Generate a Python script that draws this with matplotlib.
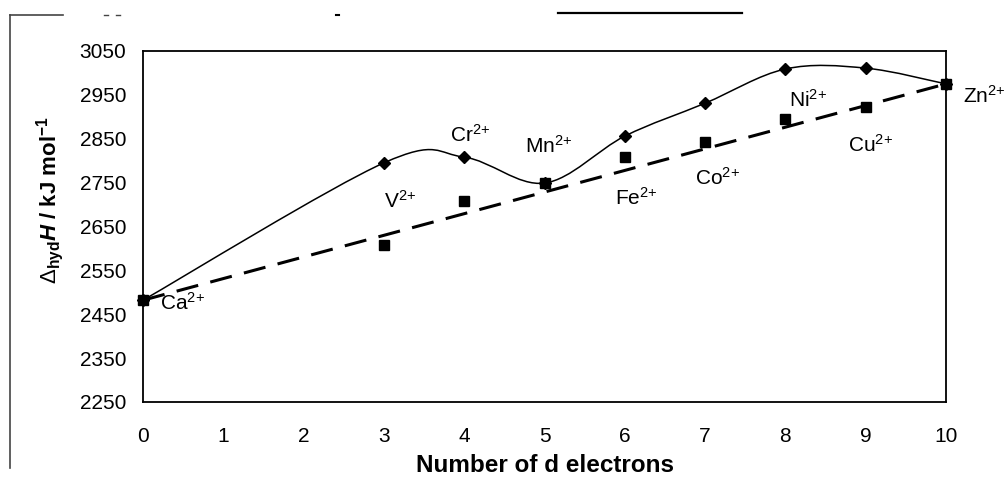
import numpy as np
import matplotlib
matplotlib.use("Agg")
import matplotlib.pyplot as plt
from matplotlib.path import Path
from matplotlib.patches import PathPatch
from matplotlib.lines import Line2D

plt.rcParams['font.family'] = ['Liberation Sans', 'DejaVu Sans']
plt.rcParams['mathtext.fontset'] = 'custom'
plt.rcParams['mathtext.rm'] = 'Liberation Sans'
plt.rcParams['mathtext.it'] = 'Liberation Sans:italic'
plt.rcParams['mathtext.bf'] = 'Liberation Sans:bold'
plt.rcParams['mathtext.bfit'] = 'Liberation Sans:italic:bold'

# Hydration enthalpies of the first-row M2+ ions (magnitudes, kJ/mol)
ions = ['Ca', 'V', 'Cr', 'Mn', 'Fe', 'Co', 'Ni', 'Cu', 'Zn']
d_electrons = [0, 3, 4, 5, 6, 7, 8, 9, 10]
observed = [2482, 2795, 2808, 2749, 2856, 2931, 3009, 3011, 2975]
corrected = [2482, 2608, 2708, 2749, 2808, 2843, 2895, 2922, 2975]

# Label anchors (left / baseline) in data units
label_x = [0.21, 3.00, 3.82, 4.76, 5.88, 6.87, 8.04, 8.78, 10.21]
label_y = [2460, 2692, 2843, 2817, 2699, 2745, 2922, 2820, 2931]

y_ticks = list(range(2250, 3051, 100))
x_ticks = list(range(0, 11))


def smooth_path(xs, ys):
    """Catmull-Rom style Bezier through the points (spreadsheet 'smoothed line')."""
    pts = np.column_stack([xs, ys]).astype(float)
    n = len(pts)
    verts = [pts[0]]
    codes = [Path.MOVETO]
    for i in range(n - 1):
        p_prev = pts[i - 1] if i > 0 else pts[i]
        p0 = pts[i]
        p1 = pts[i + 1]
        p_next = pts[i + 2] if i + 2 < n else pts[i + 1]
        c1 = p0 + (p1 - p_prev) / 6.0
        c2 = p1 - (p_next - p0) / 6.0
        verts += [c1, c2, p1]
        codes += [Path.CURVE4] * 3
    return Path(verts, codes)


fig = plt.figure(figsize=(10.07, 4.83), dpi=100)
ax = fig.add_axes([143 / 1007, 1 - 402 / 483, 803 / 1007, 351 / 483])

# Measured values: smoothed curve with diamond markers
ax.add_patch(PathPatch(smooth_path(d_electrons, observed), facecolor='none',
                       edgecolor='black', linewidth=1.1, zorder=3,
                       clip_on=False))
ax.plot(d_electrons, observed, linestyle='none', marker='D', markersize=6,
        color='black', zorder=4, clip_on=False)

# Values expected without ligand-field stabilisation: straight dashed line
ax.plot([d_electrons[0], d_electrons[-1]], [corrected[0], corrected[-1]],
        color='black', linewidth=2.2, dashes=(7.3, 4.1), zorder=2,
        clip_on=False)
ax.plot(d_electrons, corrected, linestyle='none', marker='s', markersize=6.5,
        color='black', zorder=4, clip_on=False)

for name, lx, ly in zip(ions, label_x, label_y):
    ax.text(lx, ly, name + r'$^{2{+}}$', fontsize=15, ha='left',
            va='baseline', zorder=5, clip_on=False)

ax.set_xlim(0, 10)
ax.set_ylim(2250, 3050)
ax.set_xticks(x_ticks)
ax.set_xticklabels([str(t) for t in x_ticks])
ax.set_yticks(y_ticks)
ax.set_yticklabels([str(t) for t in y_ticks])
ax.tick_params(axis='both', length=0, labelsize=15)
ax.tick_params(axis='x', pad=18)
ax.tick_params(axis='y', pad=12)
for sp in ax.spines.values():
    sp.set_linewidth(1.3)
    sp.set_color('black')

ax.set_xlabel('Number of d electrons', fontsize=17.5, fontweight='bold')
ax.xaxis.set_label_coords(0.5, -0.148)
ax.set_ylabel(r'$\Delta_{\mathbf{hyd}}\mathbfit{H}$ / kJ mol$^{\mathbf{-1}}$',
              fontsize=16, fontweight='bold')
ax.yaxis.set_label_coords(-0.116, 0.575)
ax.yaxis.label.set_va('center')

# Page frame around the chart
W, H = 1007.0, 483.0
def fig_line(x0, y0, x1, y1, lw=1.0, color='#444444'):
    fig.add_artist(Line2D([x0 / W, x1 / W], [1 - y0 / H, 1 - y1 / H],
                          color=color, linewidth=lw, transform=fig.transFigure))

fig_line(10, 15, 10, 468, lw=1.2)
fig_line(10, 15, 63, 15, lw=1.2)
fig_line(104, 15, 108, 15, lw=1.0)
fig_line(116, 15, 120, 15, lw=1.0)
fig_line(336, 15, 339, 15, lw=1.5, color='black')
fig_line(558, 13, 742, 13, lw=1.6, color='black')

fig.savefig('out.png', dpi=100, facecolor='white')
